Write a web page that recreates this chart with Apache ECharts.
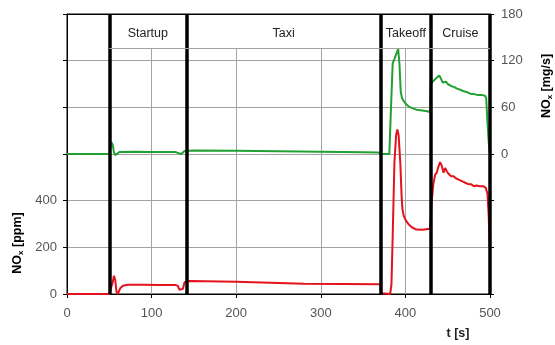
<!DOCTYPE html>
<html>
<head>
<meta charset="utf-8">
<title>NOx emissions by phase</title>
<script src="https://cdn.jsdelivr.net/npm/echarts@6/dist/echarts.min.js"></script>
<style>
    html, body { margin: 0; padding: 0; background: #fff; }
    #main { width: 555px; height: 345px; }
</style>
</head>
<body>
<div id="main"></div>
<script>
// NOx concentration [ppm] (left axis)
var ppmTime = [0, 50, 52, 54, 55.5, 57, 58.5, 60, 61, 63, 66, 72, 90, 110, 128, 131, 133, 135, 137, 139, 141,
    145, 200, 280, 370, 371.5, 373, 382, 383.5, 385, 387, 389, 390.5, 392, 394, 395.5, 396.5, 398, 401, 404, 408, 413, 420, 429,
    430, 431, 433, 435, 437, 439, 441, 443, 445, 447, 449, 451, 454, 457, 460, 463, 466, 468, 470, 472, 475, 478, 481, 484, 488, 492, 495, 497, 498.5, 499.5];
var ppmValue = [0, 0, 2, 50, 78, 60, 10, 0, 5, 25, 35, 40, 40, 39, 39, 35, 18, 12, 22, 50, 55,
    56, 52, 44, 42, 3, 0, 0, 40, 250, 560, 680, 705, 680, 560, 420, 365, 335, 312, 298, 285, 276, 275, 280,
    330, 395, 470, 510, 520, 545, 565, 550, 520, 540, 525, 515, 505, 505, 495, 490, 485, 488, 478, 482, 470, 470, 462, 465, 462, 462, 455, 430, 330, 200];

// NOx mass flow [mg/s] (right axis)
var flowTime = [0, 50, 51, 52.5, 54, 55.5, 57, 59, 62, 80, 100, 128, 131, 133, 135, 137, 139, 141,
    150, 200, 250, 300, 350, 368, 370, 372, 381, 383, 385, 387, 389, 391.5, 393, 394.5, 396, 398, 401, 404, 408, 413, 420, 426, 429,
    430, 433, 436, 438, 440, 441, 442, 444, 446, 448, 450, 452, 455, 458, 461, 464, 466, 468, 471, 474, 476, 478, 481, 485, 490, 494, 495.5, 497, 498.5, 499.5];
var flowValue = [0, 0, 2, 15, 12, 2, -1.5, 1, 2.5, 2.8, 2.6, 2.5, 1.5, -0.5, 0, 2.5, 4, 4.5,
    4.5, 4.2, 3.6, 3, 2.4, 2, 1, 0, 0, 60, 117, 122, 128, 135, 115, 80, 72, 68, 64, 61, 59, 57, 56, 55, 54,
    90, 94, 97, 99, 101, 102, 97, 92, 94, 93, 90, 90, 87, 86, 84, 83, 84, 81, 80, 79, 79, 77, 77, 76, 76, 75, 72, 40, 15, 3];

// flight phases
var phaseNames = ["Startup", "Taxi", "Takeoff", "Cruise"];
var phaseStart = [50, 141, 371, 430];
var phaseEnd = [141, 371, 430, 500];

var leftTicks = [0, 200, 400];
var rightTicks = [0, 60, 120, 180];

function zip(t, v) {
    var out = [];
    for (var i = 0; i < t.length; i++) {
        out.push([t[i], v[i]]);
    }
    return out;
}

var headerBottom = 136.3; // right-axis value of the phase label band edge
var phaseAreas = [];
var dividers = [];
for (var i = 0; i < phaseNames.length; i++) {
    phaseAreas.push([
        {name: phaseNames[i], coord: [phaseStart[i], headerBottom]},
        {coord: [phaseEnd[i], 180]}
    ]);
    dividers.push({xAxis: phaseStart[i]});
}
dividers.push({xAxis: phaseEnd[phaseEnd.length - 1]});

var font = "Liberation Sans, Arial, sans-serif";
var gridColor = "#a3a3a3";

var myChart = echarts.init(document.getElementById('main'));
var option = {
    animation: false,
    backgroundColor: '#fff',
    textStyle: {fontFamily: font},
    grid: {
        left: 67, width: 423, top: 14, height: 280,
        show: true, borderColor: '#000', borderWidth: 1, backgroundColor: 'transparent'
    },
    xAxis: {
        type: 'value',
        min: 0, max: 500, interval: 100,
        axisLine: {lineStyle: {color: '#000', width: 1}},
        axisTick: {show: true, length: 4, lineStyle: {color: '#000'}},
        axisLabel: {color: '#555', fontSize: 13, margin: 13, fontFamily: font},
        splitLine: {show: true, lineStyle: {color: gridColor, width: 1}}
    },
    yAxis: [{
        type: 'value',
        min: 0, max: 1200, interval: 200,
        axisLine: {show: true, lineStyle: {color: '#000', width: 1}},
        axisTick: {show: true, length: 4, lineStyle: {color: '#000'}},
        axisLabel: {
            color: '#555', fontSize: 13, margin: 10, fontFamily: font,
            formatter: function (v) { return leftTicks.indexOf(v) >= 0 ? String(v) : ''; }
        },
        splitLine: {show: true, lineStyle: {color: gridColor, width: 1}}
    }, {
        type: 'value',
        min: -180, max: 180, interval: 60,
        position: 'right',
        axisLine: {show: true, lineStyle: {color: '#000', width: 1}},
        axisTick: {show: true, length: 4, lineStyle: {color: '#000'}},
        axisLabel: {
            color: '#555', fontSize: 13, margin: 11, fontFamily: font,
            formatter: function (v) { return rightTicks.indexOf(v) >= 0 ? String(v) : ''; }
        },
        splitLine: {show: false}
    }],
    graphic: [{
        type: 'text', x: 18, y: 243, rotation: Math.PI / 2,
        style: {
            text: '{b|NO}{s|x}{b| [ppm]}', align: 'center', verticalAlign: 'middle',
            rich: {
                b: {fontSize: 12.5, fontWeight: 'bold', fontFamily: font, color: '#222'},
                s: {fontSize: 8, fontWeight: 'bold', fontFamily: font, color: '#222', padding: [6, 0, 0, 0]}
            }
        }
    }, {
        type: 'text', x: 547, y: 86, rotation: Math.PI / 2,
        style: {
            text: '{b|NO}{s|x}{b| [mg/s]}', align: 'center', verticalAlign: 'middle',
            rich: {
                b: {fontSize: 12.5, fontWeight: 'bold', fontFamily: font, color: '#222'},
                s: {fontSize: 8, fontWeight: 'bold', fontFamily: font, color: '#222', padding: [6, 0, 0, 0]}
            }
        }
    }, {
        type: 'text', x: 458, y: 334,
        style: {
            text: 't [s]', align: 'center', verticalAlign: 'middle',
            font: 'bold 12.5px ' + font, fill: '#222'
        }
    }],
    series: [{
        name: 'NOx ppm',
        type: 'line',
        yAxisIndex: 0,
        data: zip(ppmTime, ppmValue),
        showSymbol: false,
        lineStyle: {color: '#e3121c', width: 2},
        z: 3
    }, {
        name: 'NOx mg/s',
        type: 'line',
        yAxisIndex: 1,
        data: zip(flowTime, flowValue),
        showSymbol: false,
        lineStyle: {color: '#21a132', width: 2},
        z: 3
    }, {
        // phase band and thick dividers
        name: 'phases',
        type: 'line',
        yAxisIndex: 1,
        data: [],
        z: 5,
        markArea: {
            silent: true,
            itemStyle: {color: '#fff', borderWidth: 0},
            label: {show: true, position: 'inside', offset: [0, 3], color: '#222', fontSize: 12.5, fontFamily: font},
            data: phaseAreas
        },
        markLine: {
            silent: true,
            symbol: 'none',
            label: {show: false},
            lineStyle: {color: '#000', width: 3.5, type: 'solid'},
            data: dividers.concat([
                [{coord: [50, headerBottom], lineStyle: {color: gridColor, width: 1}}, {coord: [500, headerBottom]}],
                [{coord: [0, 180], lineStyle: {color: '#000', width: 1}}, {coord: [500, 180]}]
            ])
        }
    }]
};
myChart.setOption(option);
</script>
</body>
</html>
